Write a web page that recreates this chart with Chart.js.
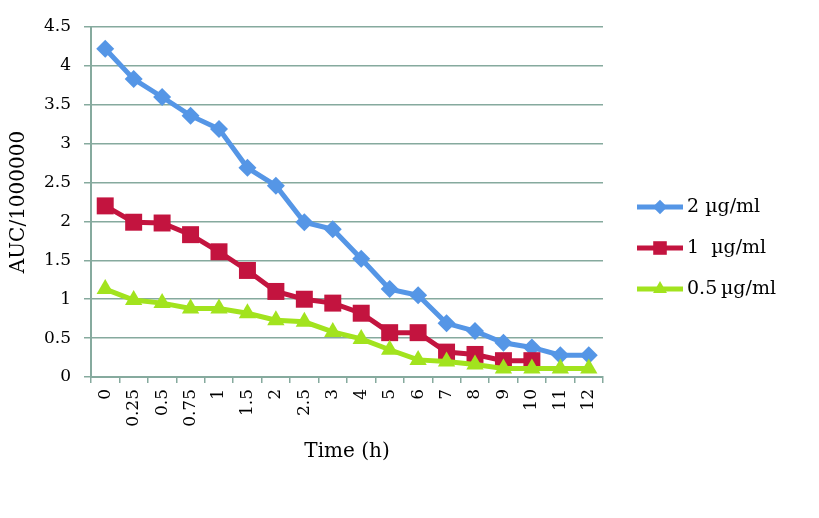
<!DOCTYPE html>
<html>
<head>
<meta charset="utf-8">
<script src="https://cdn.jsdelivr.net/npm/chart.js@4/dist/chart.umd.min.js"></script>
<style>
  body { margin: 0; background: #fff; }
  #wrap { width: 819px; height: 518px; }
</style>
</head>
<body>
<div id="wrap"><canvas id="chart" width="819" height="518"></canvas></div>
<script>
// Time points (h) on the x axis
const times = ['0', '0.25', '0.5', '0.75', '1', '1.5', '2', '2.5', '3', '4', '5', '6', '7', '8', '9', '10', '11', '12'];

// AUC / 1000000 per concentration
const auc2 = [4.22, 3.83, 3.60, 3.36, 3.19, 2.69, 2.46, 1.99, 1.90, 1.52, 1.13, 1.05, 0.69, 0.59, 0.44, 0.38, 0.28, 0.28];
const auc1 = [2.20, 1.99, 1.98, 1.83, 1.61, 1.37, 1.10, 1.00, 0.95, 0.82, 0.57, 0.57, 0.32, 0.29, 0.21, 0.21, null, null];
const auc05 = [1.13, 0.99, 0.95, 0.88, 0.88, 0.82, 0.73, 0.71, 0.58, 0.49, 0.35, 0.22, 0.20, 0.16, 0.11, 0.11, 0.11, 0.11];

const seriesNames = ['2 µg/ml', '1  µg/ml', '0.5\u2009µg/ml'];

const gridColor = '#86aa9e';
const fontFamily = "'DejaVu Serif', serif";

// legend drawn as line + marker, like the original
const lineLegend = {
  id: 'lineLegend',
  afterDraw(chart) {
    const ctx = chart.ctx;
    const rows = [207, 248, 289];
    chart.data.datasets.forEach((ds, i) => {
      const y = rows[i];
      ctx.save();
      ctx.strokeStyle = ds.borderColor;
      ctx.lineWidth = ds.borderWidth;
      ctx.beginPath();
      ctx.moveTo(637, y);
      ctx.lineTo(683, y);
      ctx.stroke();
      ctx.fillStyle = ds.borderColor;
      Chart.helpers.drawPoint(ctx, {
        pointStyle: ds.pointStyle,
        radius: ds.pointRadius * 0.8,
        rotation: 0,
        borderWidth: 0
      }, 660, y);
      ctx.fillStyle = '#000';
      ctx.font = '19px ' + fontFamily;
      ctx.textBaseline = 'middle';
      ctx.textAlign = 'left';
      ctx.fillText(ds.label, 687, y);
      ctx.restore();
    });
  }
};

const ctx = document.getElementById('chart').getContext('2d');
new Chart(ctx, {
  type: 'line',
  data: {
    labels: times,
    datasets: [
      {
        label: seriesNames[0],
        data: auc2,
        order: 2,
        borderColor: '#5596e6',
        backgroundColor: '#5596e6',
        borderWidth: 5,
        pointStyle: 'rectRot',
        pointRadius: 9,
        pointBorderWidth: 0,
        tension: 0
      },
      {
        label: seriesNames[1],
        data: auc1,
        order: 1,
        borderColor: '#c3143f',
        backgroundColor: '#c3143f',
        borderWidth: 5,
        pointStyle: 'rect',
        pointRadius: 12,
        pointBorderWidth: 0,
        tension: 0
      },
      {
        label: seriesNames[2],
        data: auc05,
        order: 0,
        borderColor: '#a2e31e',
        backgroundColor: '#a2e31e',
        borderWidth: 5,
        pointStyle: 'triangle',
        pointRadius: 10,
        pointBorderWidth: 0,
        tension: 0
      }
    ]
  },
  options: {
    responsive: false,
    animation: false,
    layout: { padding: { left: 7, top: 27, right: 216, bottom: 54 } },
    plugins: {
      legend: { display: false },
      tooltip: { enabled: false }
    },
    scales: {
      x: {
        offset: true,
        grid: { offset: true, drawOnChartArea: false, drawTicks: true, tickLength: 6, color: gridColor, lineWidth: 1.5 },
        border: { color: gridColor, width: 2 },
        ticks: { minRotation: 90, maxRotation: 90, autoSkip: false, padding: 6, color: '#000', font: { family: fontFamily, size: 17 } },
        title: { display: true, text: 'Time (h)', color: '#000', padding: 0, font: { family: fontFamily, size: 20 } },
        afterFit(scale) { scale.height = 87; }
      },
      y: {
        min: 0,
        max: 4.5,
        ticks: {
          stepSize: 0.5,
          padding: 13,
          color: '#000',
          font: { family: fontFamily, size: 17 },
          callback: (v) => String(v)
        },
        grid: { color: gridColor, lineWidth: 1.5, tickLength: 7 },
        border: { color: gridColor, width: 2 },
        title: { display: true, text: 'AUC/1000000', color: '#000', padding: 0, font: { family: fontFamily, size: 20 } },
        afterFit(scale) { scale.width = 84; }
      }
    }
  },
  plugins: [lineLegend]
});
</script>
</body>
</html>
